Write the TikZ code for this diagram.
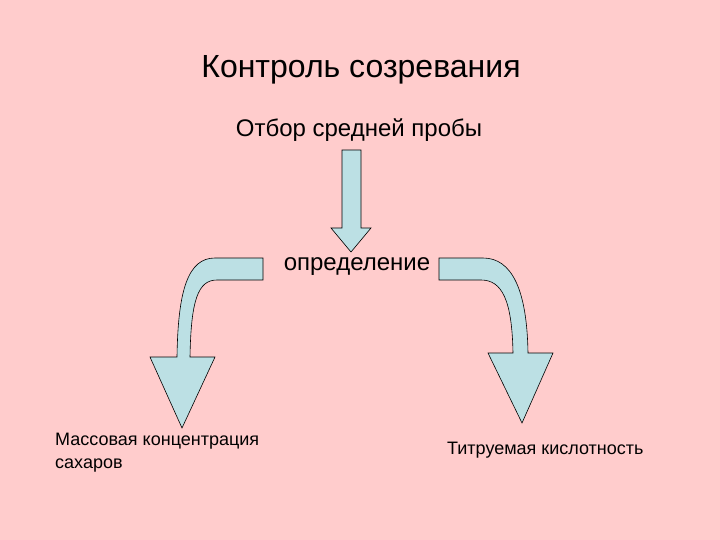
\documentclass[tikz,border=0pt]{standalone}
\usepackage{fontspec}
\setmainfont{Liberation Sans}
\definecolor{bg}{HTML}{FFCCCC}
\definecolor{ar}{HTML}{BCE0E4}
\begin{document}
\begin{tikzpicture}[x=1pt,y=-1pt,
  arr/.style={fill=ar,draw=black,line width=0.6pt,line join=miter},
  txt/.style={inner sep=0pt,text=black}]
\fill[bg] (0,0) rectangle (720,540);
\useasboundingbox (0,0) rectangle (720,540);
\node[txt,font=\fontsize{32}{36}\selectfont] (title) at (361,70) {Контроль созревания};
\node[txt,font=\fontsize{24}{28}\selectfont] (sample) at (359,130) {Отбор средней пробы};
\node[txt,font=\fontsize{24}{28}\selectfont] (def) at (357,267) {определение};
\node[txt,font=\fontsize{18}{23}\selectfont,align=left,anchor=north west] (sugar) at (55,433) {Массовая концентрация\\сахаров};
\node[txt,font=\fontsize{18}{22}\selectfont,anchor=west] (acid) at (447,450) {Титруемая кислотность};
% down arrow
\draw[arr] (342,150) -- (361,150) -- (361,228) -- (371,228) -- (351,252) -- (331,228) -- (342,228) -- cycle;
% left curved arrow
\draw[arr] (263,258) -- (215,258) .. controls (188,258) and (178,290) .. (177,357)
  -- (150,357) -- (182,428) -- (215,357) -- (190,357)
  .. controls (191,300) and (198,280) .. (217,280) -- (263,280) -- cycle;
% right curved arrow
\draw[arr] (439,258) -- (483,258) .. controls (512,258) and (527,290) .. (528,353)
  -- (553,353) -- (522,423) -- (488,353) -- (513,353)
  .. controls (512,300) and (502,280) .. (481,280) -- (439,280) -- cycle;
\end{tikzpicture}
\end{document}
